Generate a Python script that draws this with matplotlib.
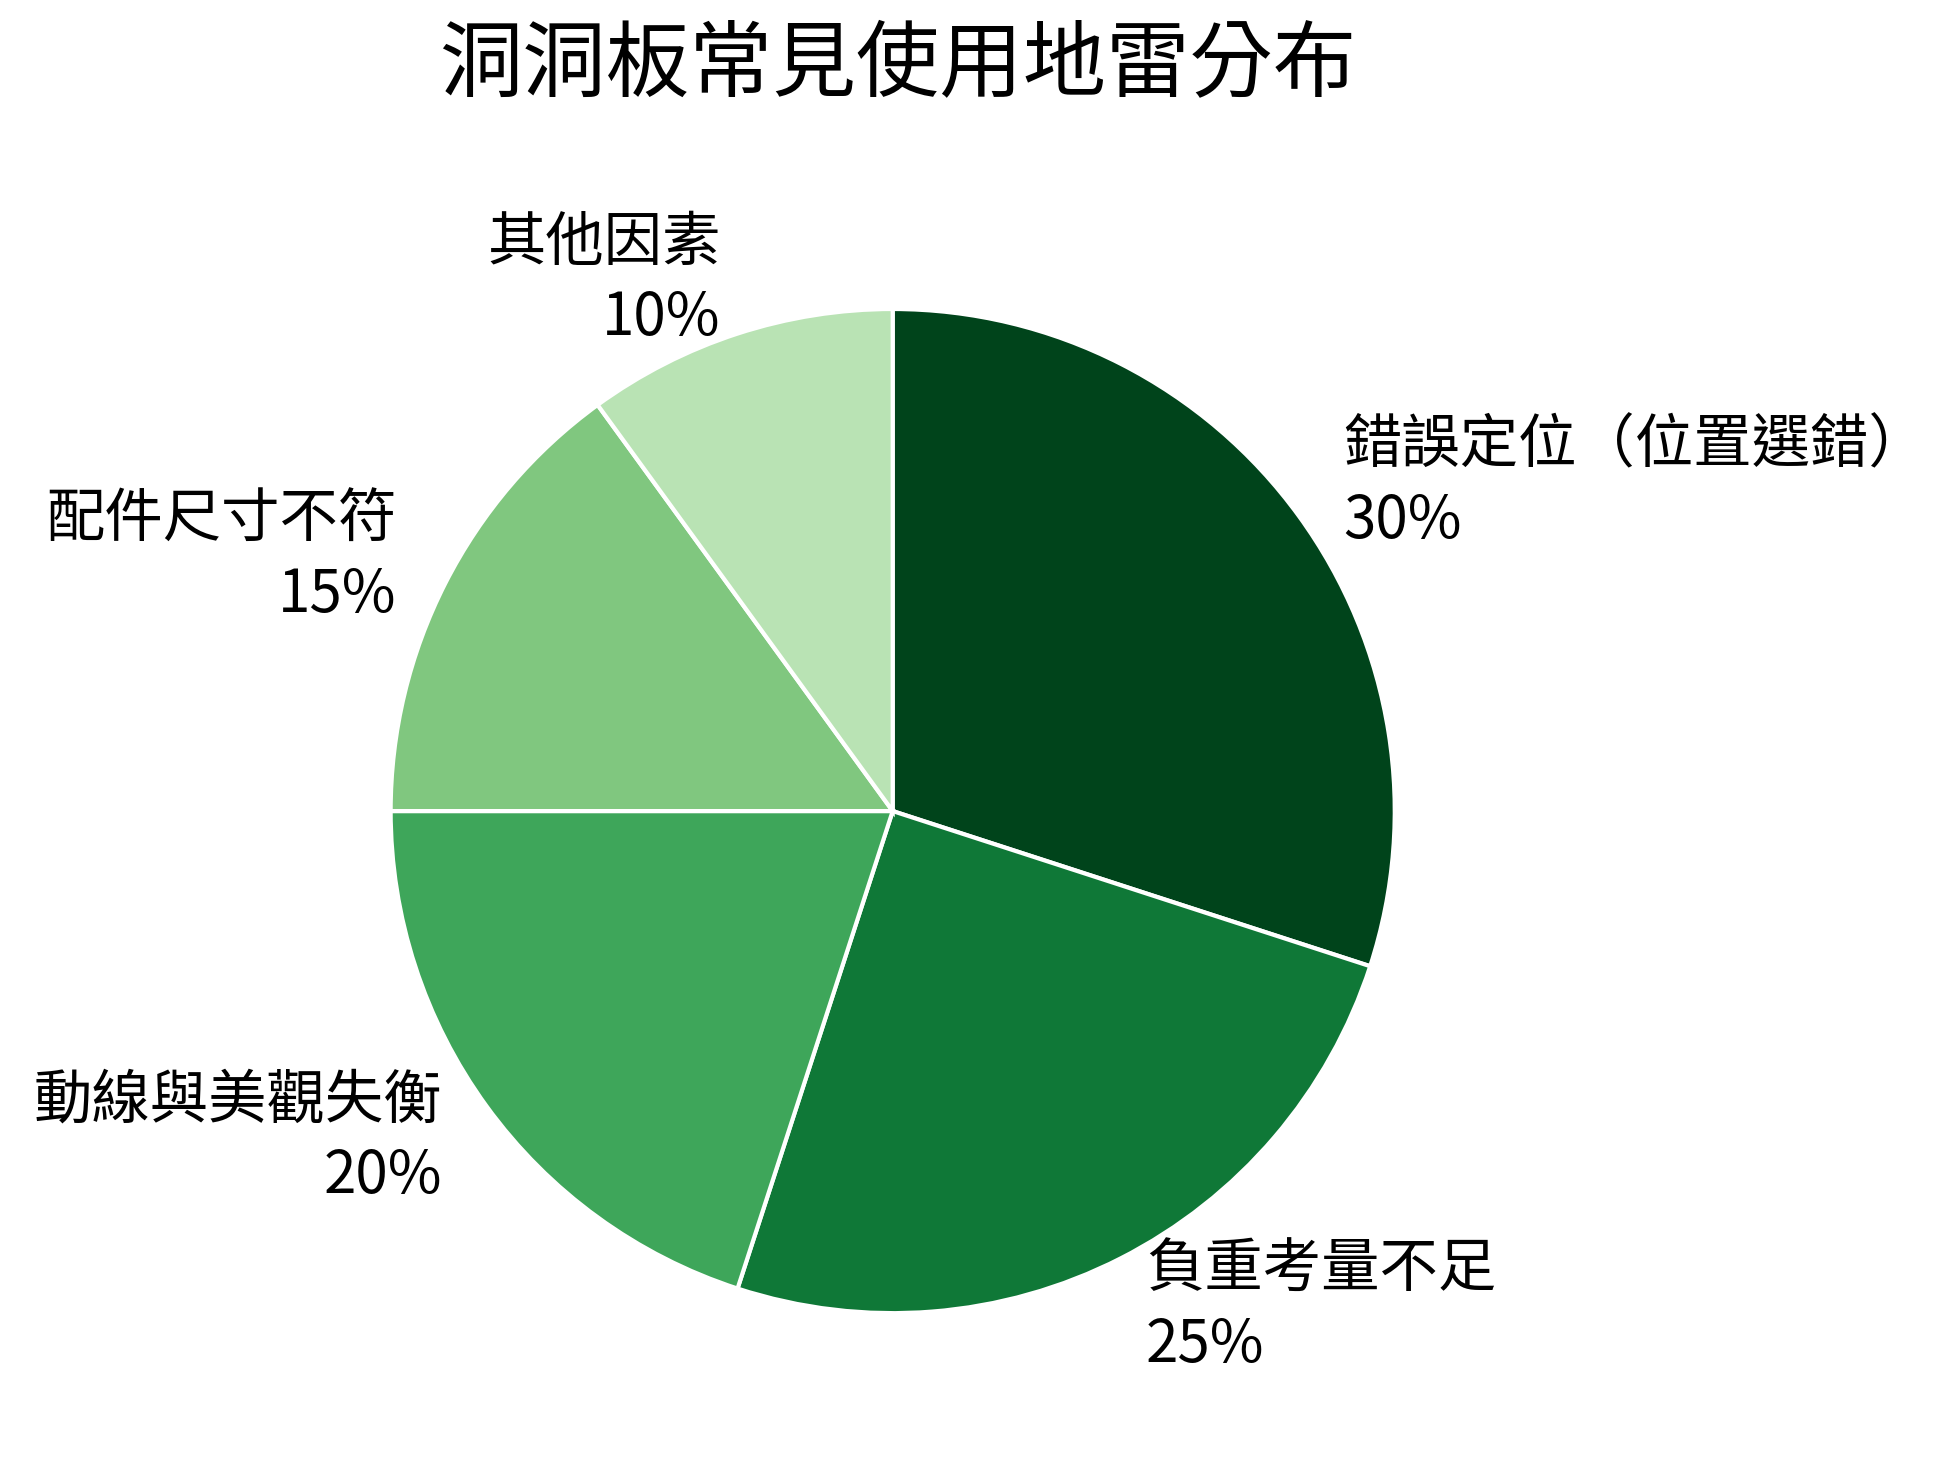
import matplotlib
matplotlib.use("Agg")
import matplotlib.pyplot as plt

plt.rcParams['font.family'] = 'Noto Sans CJK TC'

categories = ['錯誤定位（位置選錯）', '負重考量不足', '動線與美觀失衡', '配件尺寸不符', '其他因素']
values = [30, 25, 20, 15, 10]
colors = ['#00441b', '#0f7837', '#3ea65a', '#80c77f', '#b9e3b4']

labels = [f'{c}\n{v}%' for c, v in zip(categories, values)]

fig = plt.figure(figsize=(19.47, 14.68), dpi=100)
fig.suptitle('洞洞板常見使用地雷分布', fontsize=60, x=0.461, y=0.985)

ax = fig.add_axes([0.136, 0.02, 0.645, 0.855])
ax.pie(values, labels=labels, colors=colors, startangle=90, counterclock=False,
       labeldistance=1.11, wedgeprops=dict(edgecolor='white', linewidth=3),
       textprops=dict(fontsize=42, linespacing=1.3))
ax.set_xlim(-1.25, 1.25)
ax.set_ylim(-1.25, 1.25)
ax.set_aspect('equal')

fig.savefig('out.png')
